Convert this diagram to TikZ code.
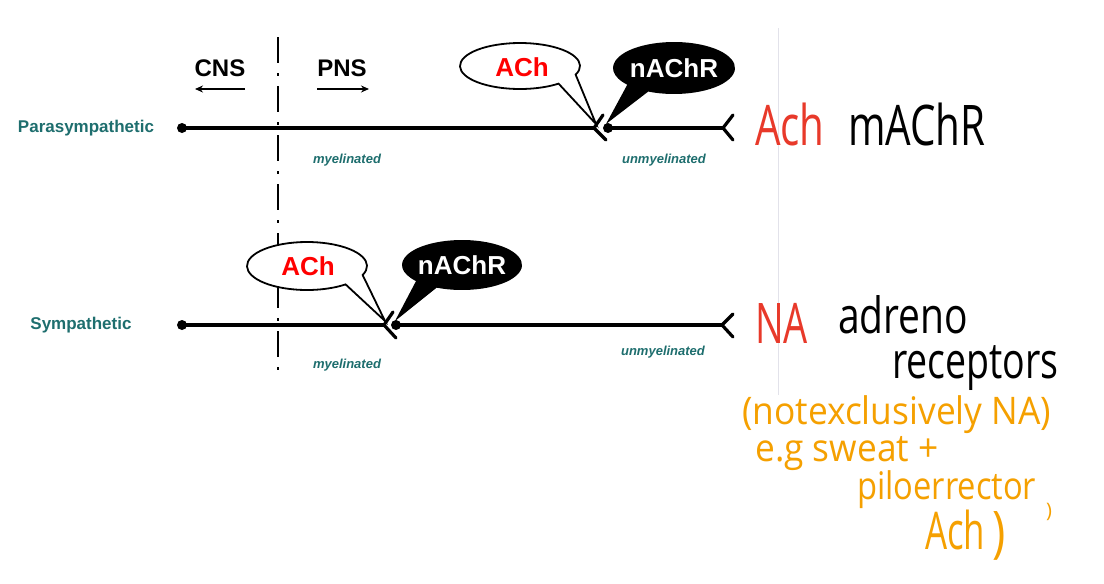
\documentclass[tikz,border=0pt]{standalone}
\usepackage{fontspec}
\setmainfont{Liberation Sans}
\newfontfamily\handfont{Open Sans}
\usetikzlibrary{arrows.meta,calc}
\definecolor{tealc}{HTML}{1E6E6E}
\definecolor{handred}{HTML}{E8392A}
\definecolor{handorange}{HTML}{F5A000}
\definecolor{gridgrey}{HTML}{E2E2EA}
\begin{document}
\begin{tikzpicture}[x=1pt,y=1pt,
  axon/.style={line width=3.2pt},
  forkline/.style={line width=3.2pt,line cap=round,line join=miter},
  dotnode/.style={circle,fill=black,inner sep=0pt,minimum size=10pt},
  lbl/.style={font=\bfseries\fontsize{17}{17}\selectfont,text=tealc},
  myel/.style={font=\bfseries\itshape\fontsize{13}{13}\selectfont,text=tealc},
  region/.style={font=\bfseries\fontsize{24}{24}\selectfont},
  bubtxt/.style={font=\bfseries\fontsize{26}{26}\selectfont},
  hand/.style={font=\handfont\fontsize{56}{56}\selectfont,anchor=base west,inner sep=0pt},
  handmd/.style={font=\handfont\fontsize{50}{50}\selectfont,anchor=base west,inner sep=0pt},
  handsm/.style={font=\handfont\fontsize{38}{38}\selectfont,anchor=base west,inner sep=0pt,text=handorange},
  dirarrow/.style={line width=1.5pt,-{Stealth[length=8pt,width=7pt]}}
]
\useasboundingbox (0,0) rectangle (1104,-584);
\fill[white] (0,0) rectangle (1104,-584);

% faint grey vertical line
\draw[gridgrey,line width=1pt] (778,-28) -- (778,-395);

% CNS / PNS divider
\coordinate (divtop) at (278,-37);
\coordinate (divbot) at (278,-374);
\draw[line width=2.8pt,dash pattern=on 26pt off 10pt on 3pt off 10pt] (divtop) -- (divbot);

\node[region] (cns) at (220,-68) {CNS};
\node[region] (pns) at (342,-68) {PNS};
\coordinate (cnsa) at (245,-89); \coordinate (cnsb) at (195,-89);
\coordinate (pnsa) at (317,-89); \coordinate (pnsb) at (369,-89);
\draw[dirarrow] (cnsa) -- (cnsb);
\draw[dirarrow] (pnsa) -- (pnsb);

% ---------------- Parasympathetic ----------------
\node[lbl] (para) at (86,-128) {Parasympathetic};
\node[dotnode] (p0) at (182,-128) {};
\coordinate (pv) at (594,-128);
\node[dotnode] (p1) at (608,-128) {};
\coordinate (pe) at (723,-128);
\draw[axon] (p0.center) -- (pv);
\draw[forkline] (603,-115) -- (pv) -- (606,-140);
\draw[axon] (p1.center) -- (pe);
\draw[forkline] (733,-115) -- (pe) -- (733,-140);
\node[myel] (pm) at (347,-160) {myelinated};
\node[myel] (pu) at (664,-160) {unmyelinated};

% ACh bubble (para)
\coordinate (pbA) at (520,-66);
\coordinate (pbAtip) at (596,-124);
\draw[line width=1.8pt,fill=white,line join=miter] ($(pbA)+(-22:60 and 23)$) arc[start angle=-22,end angle=310,x radius=60,y radius=23] -- (pbAtip) -- cycle;
\node[bubtxt,text=red] (pach) at (522,-67) {ACh};
% nAChR bubble (para)
\coordinate (pbN) at (674,-68);
\coordinate (pbNtip) at (606,-124);
\fill[black] ($(pbN)+(-115:61 and 26)$) arc[start angle=-115,end angle=220,x radius=61,y radius=26] -- (pbNtip) -- cycle;
\node[bubtxt,text=white] (pnach) at (674,-68) {nAChR};

% ---------------- Sympathetic ----------------
\node[lbl] (symp) at (81,-325) {Sympathetic};
\node[dotnode] (s0) at (182,-325) {};
\coordinate (sv) at (384,-325);
\node[dotnode] (s1) at (396,-325) {};
\coordinate (se) at (722,-325);
\draw[axon] (s0.center) -- (sv);
\draw[forkline] (393,-312) -- (sv) -- (396,-338);
\draw[axon] (s1.center) -- (se);
\draw[forkline] (733,-314) -- (se) -- (733,-337);
\node[myel] (sm) at (347,-365) {myelinated};
\node[myel] (su) at (663,-352) {unmyelinated};

% ACh bubble (symp)
\coordinate (sbA) at (307,-266);
\coordinate (sbAtip) at (385,-321);
\draw[line width=1.8pt,fill=white,line join=miter] ($(sbA)+(-22:60 and 24)$) arc[start angle=-22,end angle=310,x radius=60,y radius=24] -- (sbAtip) -- cycle;
\node[bubtxt,text=red] (sach) at (308,-266) {ACh};
% nAChR bubble (symp)
\coordinate (sbN) at (462,-265);
\coordinate (sbNtip) at (395,-321);
\fill[black] ($(sbN)+(-115:60 and 25)$) arc[start angle=-115,end angle=220,x radius=60,y radius=25] -- (sbNtip) -- cycle;
\node[bubtxt,text=white] (snach) at (462,-265) {nAChR};

% ---------------- handwritten notes ----------------
\node[hand,text=handred,xscale=0.72] (hach) at (755,-145) {Ach};
\node[hand,xscale=0.72] (hmachr) at (848,-145) {mAChR};
\node[hand,text=handred,xscale=0.68] (hna) at (755,-343) {NA};
\node[handmd,xscale=0.78] (hadr) at (838,-333) {adreno};
\node[handmd,xscale=0.75] (hrec) at (892,-378) {receptors};
\node[handsm,xscale=0.93] (o1) at (742,-424) {(notexclusively NA)};
\node[handsm,xscale=0.93] (o2) at (755,-461) {e.g sweat +};
\node[handsm,xscale=0.86] (o3) at (857,-499) {piloerrector};
\node[hand,font=\handfont\fontsize{52}{52}\selectfont,text=handorange,xscale=0.67] (o4) at (925,-549) {Ach};
\node[hand,text=handorange,xscale=0.8] (o5) at (992,-551) {)};
\node[font=\handfont\fontsize{20}{20}\selectfont,text=handorange,inner sep=0pt] (o6) at (1049,-512) {)};
\end{tikzpicture}
\end{document}
